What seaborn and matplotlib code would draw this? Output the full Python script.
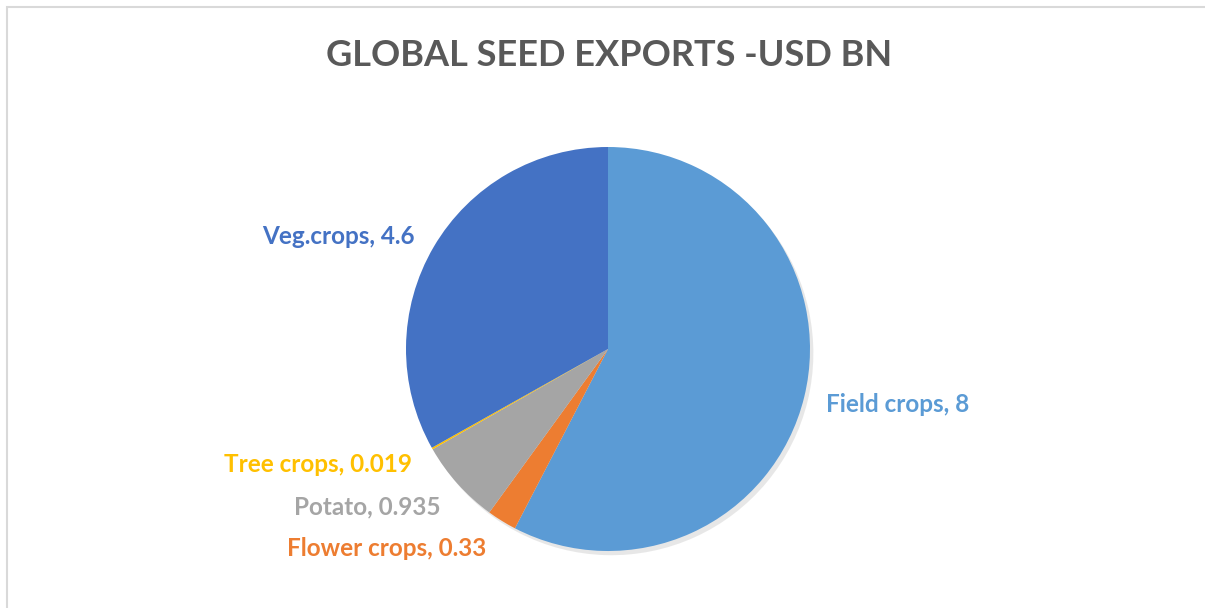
import matplotlib
matplotlib.use("Agg")
import matplotlib.pyplot as plt
import seaborn as sns
from matplotlib.patches import Rectangle

categories = ["Field crops", "Flower crops", "Potato", "Tree crops", "Veg.crops"]
values = [8, 0.33, 0.935, 0.019, 4.6]
value_labels = ["8", "0.33", "0.935", "0.019", "4.6"]
colors = ["#5B9BD5", "#ED7D31", "#A5A5A5", "#FFC000", "#4472C4"]
title = "GLOBAL SEED EXPORTS -USD BN"

sns.set_theme(style="white")
plt.rcParams['font.family'] = ['Lato', 'DejaVu Sans']

W, H = 1205, 608
fig = plt.figure(figsize=(W / 100, H / 100), dpi=100)
ax = fig.add_axes([0, 0, 1, 1])

cx, cy, R = 608, 349, 202  # pie centre / radius in pixels

def px(x, y):
    return ((x - cx) / R, (cy - y) / R)

ax.pie(values, colors=colors, startangle=90, counterclock=False, radius=1,
       wedgeprops=dict(linewidth=0),
       shadow=dict(ox=0.012, oy=-0.015, facecolor='#7F7F7F', alpha=0.18))
ax.set_xlim(-cx / R, (W - cx) / R)
ax.set_ylim(-(H - cy) / R, cy / R)
ax.set_aspect('auto')
ax.axis('off')

# label anchors (pixel positions) and alignment
label_pos = {
    "Field crops": (826, 405, 'left'),
    "Flower crops": (486, 548, 'right'),
    "Potato": (440, 507, 'right'),
    "Tree crops": (412, 465, 'right'),
    "Veg.crops": (415, 236, 'right'),
}
for cat, val, c in zip(categories, value_labels, colors):
    x, y, ha = label_pos[cat]
    ax.text(*px(x, y), f"{cat}, {val}", color=c, fontsize=17.5, fontweight='bold',
            ha=ha, va='center')

fig.text(609 / W, 1 - 56 / H, title, color="#595959", fontsize=26,
         fontweight='bold', ha='center', va='center')

fig.patches.append(Rectangle((7 / W, -0.1), 1.2, 1 - 7 / H + 0.1,
                             transform=fig.transFigure, fill=False,
                             edgecolor="#D9D9D9", linewidth=1.5))

fig.savefig("out.png", dpi=100, facecolor="white")
